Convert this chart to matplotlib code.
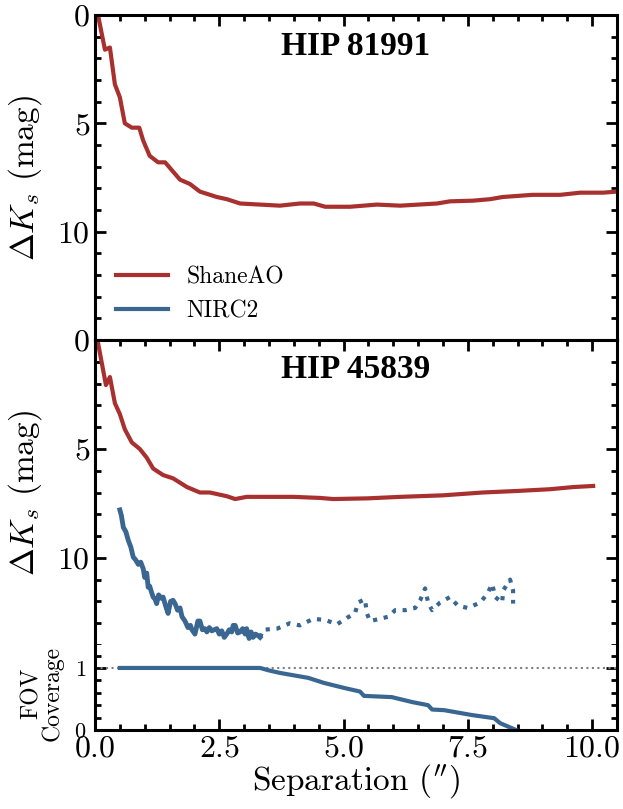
import matplotlib
matplotlib.use("Agg")
import matplotlib.pyplot as plt
from matplotlib.ticker import MultipleLocator

# DATA
# HIP 81991, ShaneAO contrast curve
sep_shane_a = [0.06, 0.2, 0.3, 0.4, 0.5, 0.6, 0.74, 0.89, 0.97, 1.1, 1.27, 1.41,
               1.71, 1.91, 2.11, 2.45, 2.65, 2.92, 3.32, 3.72, 4.12, 4.4, 4.63,
               5.13, 5.67, 6.14, 6.88, 7.14, 7.6, 7.95, 8.2, 8.8, 9.36, 9.76,
               10.22, 10.5]
dk_shane_a = [0.0, 1.6, 1.5, 3.2, 3.8, 5.0, 5.2, 5.2, 5.8, 6.5, 6.8, 6.8,
              7.6, 7.8, 8.15, 8.4, 8.5, 8.7, 8.75, 8.8, 8.7, 8.7, 8.85,
              8.85, 8.75, 8.8, 8.7, 8.6, 8.57, 8.5, 8.4, 8.3, 8.3, 8.2,
              8.2, 8.15]

# HIP 45839, ShaneAO contrast curve
sep_shane_b = [0.05, 0.22, 0.3, 0.4, 0.5, 0.6, 0.74, 0.9, 1.04, 1.17, 1.37, 1.57,
               1.85, 2.11, 2.31, 2.65, 2.82, 3.05, 3.45, 3.99, 4.53, 4.79, 5.47,
               6.14, 7.0, 7.8, 8.49, 9.15, 9.62, 10.02]
dk_shane_b = [0.0, 2.07, 1.7, 2.9, 3.4, 4.1, 4.7, 5.0, 5.4, 5.9, 6.2, 6.35,
              6.75, 7.0, 7.0, 7.17, 7.3, 7.2, 7.2, 7.2, 7.25, 7.3, 7.27,
              7.2, 7.13, 7.0, 6.93, 6.85, 6.75, 6.7]

# HIP 45839, NIRC2 contrast curve (full coverage part)
sep_nirc2 = [0.5, 0.53, 0.57, 0.62, 0.67, 0.72, 0.77, 0.82, 0.87, 0.92, 0.97, 1.0,
             1.04, 1.07, 1.1, 1.14, 1.17, 1.21, 1.24, 1.28, 1.33, 1.37, 1.42,
             1.47, 1.52, 1.57, 1.61, 1.66, 1.71, 1.75, 1.81, 1.87, 1.92, 1.95,
             2.01, 2.07, 2.11, 2.16, 2.21, 2.25, 2.3, 2.35, 2.4, 2.45, 2.5,
             2.55, 2.6, 2.65, 2.7, 2.75, 2.78, 2.82, 2.87, 2.92, 2.97, 3.02,
             3.05, 3.1, 3.14, 3.18, 3.23, 3.28, 3.32]
dk_nirc2 = [7.8, 8.05, 8.6, 8.8, 9.2, 9.5, 9.97, 10.1, 10.3, 10.2, 10.5, 10.9,
            10.7, 11.35, 11.3, 11.6, 11.8, 11.9, 12.1, 11.7, 11.85, 11.8, 12.2,
            12.55, 12.0, 11.95, 12.1, 12.4, 12.3, 12.7, 12.9, 13.2, 13.1, 13.3,
            13.5, 12.9, 12.9, 13.3, 13.25, 13.4, 13.2, 13.35, 13.3, 13.25, 13.5,
            13.35, 13.65, 13.5, 13.3, 13.4, 13.1, 13.1, 13.45, 13.4, 13.25, 13.5,
            13.25, 13.7, 13.4, 13.65, 13.5, 13.57, 13.65]

# HIP 45839, NIRC2 contrast curve (partial coverage part)
sep_nirc2_part = [3.32, 3.38, 3.66, 3.92, 4.12, 4.39, 4.63, 4.87, 5.07, 5.23, 5.29,
                  5.43, 5.47, 5.53, 5.73, 5.9, 6.04, 6.24, 6.44, 6.54, 6.64,
                  6.7, 6.78, 6.94, 7.14, 7.3, 7.5, 7.75, 7.89, 7.99, 8.05,
                  8.19, 8.21, 8.35, 8.41, 8.41]
dk_nirc2_part = [13.65, 13.3, 13.25, 13.0, 13.1, 12.8, 12.85, 13.05, 12.75, 12.55, 12.05,
                 11.9, 12.55, 12.9, 12.8, 12.7, 12.4, 12.4, 12.3, 11.95, 11.4,
                 12.05, 12.4, 12.05, 11.8, 12.2, 12.3, 12.05, 11.65, 11.2, 11.8,
                 12.05, 11.5, 11.0, 11.5, 12.1]

# NIRC2 field-of-view coverage
sep_fov = [0.5, 3.32, 3.5, 3.72, 4.29, 4.6, 5.0, 5.33, 5.41, 5.97, 6.38, 6.7, 6.78,
           7.02, 7.59, 8.03, 8.15, 8.47]
fov = [1.0, 1.0, 0.96, 0.92, 0.84, 0.76, 0.68, 0.62, 0.55, 0.53, 0.45, 0.4, 0.33,
       0.32, 0.24, 0.19, 0.11, 0.0]

targets = ["HIP 81991", "HIP 45839"]
labels = ["ShaneAO", "NIRC2"]

RED = "#a8302f"
BLUE = "#3a6791"

plt.rcParams["font.family"] = "serif"
plt.rcParams["font.serif"] = ["cmr10"]
plt.rcParams["mathtext.fontset"] = "cm"
plt.rcParams["axes.formatter.use_mathtext"] = True

W, H = 623, 809
fig = plt.figure(figsize=(W / 100, H / 100), dpi=100)


def box(top, bottom, left=95, right=617):
    """axes rectangle from pixel edges"""
    return [left / W, 1 - bottom / H, (right - left) / W, (bottom - top) / H]


def style(ax, xticks=True):
    for s in ax.spines.values():
        s.set_linewidth(2.2)
    ax.tick_params(which="both", direction="in", width=2, labelsize=23,
                   top=True, right=True)
    ax.tick_params(which="major", length=8)
    ax.tick_params(which="minor", length=4.5)
    ax.xaxis.set_major_locator(MultipleLocator(2.5))
    ax.xaxis.set_minor_locator(MultipleLocator(0.5))
    ax.set_xlim(0, 10.5)
    if not xticks:
        ax.tick_params(labelbottom=False)


ax1 = fig.add_axes(box(15, 340))
ax2 = fig.add_axes(box(340, 645))
ax3 = fig.add_axes(box(645, 730))

# top panel
ax1.plot(sep_shane_a, dk_shane_a, color=RED, lw=3, label=labels[0])
ax1.plot([], [], color=BLUE, lw=3, label=labels[1])
ax1.set_ylim(15, 0)
ax1.yaxis.set_major_locator(MultipleLocator(5))
ax1.yaxis.set_minor_locator(MultipleLocator(1))
style(ax1, xticks=False)
ax1.tick_params(which="both", bottom=False)
ax1.set_yticks([0, 5, 10])
ax1.set_ylabel(r"$\Delta K_s$ (mag)", fontsize=24, labelpad=10)
ax1.text(0.5, 0.95, targets[0], transform=ax1.transAxes, ha="center", va="top",
         fontsize=24, fontweight="bold", family="Liberation Serif")
ax1.legend(loc="lower left", frameon=False, fontsize=17, handlelength=2.2,
           borderaxespad=0.35, labelspacing=0.5, bbox_to_anchor=(0.006, 0.0))

# middle panel
ax2.plot(sep_shane_b, dk_shane_b, color=RED, lw=3)
ax2.plot(sep_nirc2, dk_nirc2, color=BLUE, lw=3.5)
ax2.plot(sep_nirc2_part, dk_nirc2_part, color=BLUE, lw=3, ls=(0, (1, 1.6)))
ax2.set_ylim(14, 0)
ax2.yaxis.set_minor_locator(MultipleLocator(1))
style(ax2, xticks=False)
ax2.set_yticks([0, 5, 10])
ax2.spines["bottom"].set_visible(False)
ax2.tick_params(which="both", bottom=False)
ax2.set_ylabel(r"$\Delta K_s$ (mag)", fontsize=24, labelpad=10)
ax2.text(0.5, 0.955, targets[1], transform=ax2.transAxes, ha="center", va="top",
         fontsize=24, fontweight="bold", family="Liberation Serif")

# coverage panel
ax3.axhline(1, color="gray", lw=1.5, ls=":")
ax3.plot(sep_fov, fov, color=BLUE, lw=3)
ax3.set_ylim(0, 1.37)
style(ax3)
ax3.spines["top"].set_visible(False)
ax3.tick_params(which="both", top=False)
ax3.set_yticks([0, 1])
ax3.yaxis.set_minor_locator(MultipleLocator(0.2))
ax3.tick_params(axis="y", labelsize=16, pad=6)
ax3.set_ylabel("FOV\nCoverage", fontsize=17, linespacing=0.9)
ax3.yaxis.set_label_coords(-0.06, 0.43)
ax3.set_xlabel("Separation ($^{\\prime\\prime}$)", fontsize=24, labelpad=0)

fig.savefig("out.png", dpi=100)
